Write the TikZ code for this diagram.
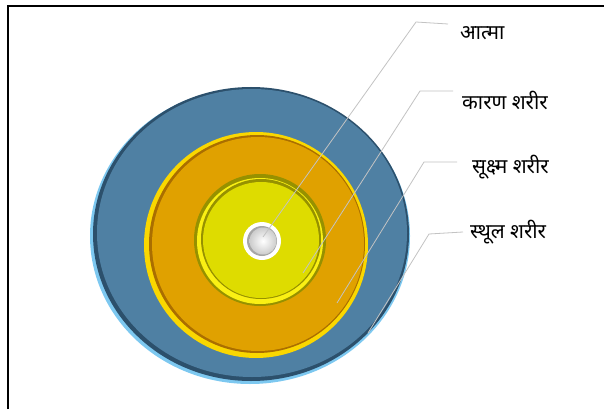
\documentclass[tikz,border=0pt]{standalone}
\usepackage{fontspec}
\newfontfamily\devfont[Script=Devanagari]{Noto Sans}
\definecolor{bluefill}{RGB}{79,128,163}
\definecolor{bluedark}{RGB}{44,80,108}
\definecolor{bluerim}{RGB}{125,200,240}
\definecolor{orfill}{RGB}{224,161,0}
\definecolor{ordark}{RGB}{170,110,0}
\definecolor{orrim}{RGB}{250,215,0}
\definecolor{yefill}{RGB}{222,220,0}
\definecolor{yedark}{RGB}{150,145,0}
\definecolor{yerim}{RGB}{250,240,20}
\definecolor{leader}{RGB}{195,195,195}
\tikzset{
  lbl/.style={anchor=west, inner sep=0pt, font=\devfont\fontsize{20.5}{24}\selectfont},
  leadline/.style={draw=leader, line width=0.8pt},
}
\begin{document}
\begin{tikzpicture}[x=1pt,y=-1pt]
\useasboundingbox (0,0) rectangle (604,409);
\fill[white] (0,0) rectangle (604,409);
% frame
\draw[line width=1.2pt] (8,409) -- (8,6) -- (604,6);
% outer blue disc
\fill[bluerim] (250,236) ellipse [x radius=160, y radius=148];
\fill[bluedark] (251,234) ellipse [x radius=158, y radius=147];
\fill[bluefill] (252,233) ellipse [x radius=155, y radius=144];
% orange disc
\fill[orrim] (256,245) ellipse [x radius=112, y radius=113];
\fill[ordark] (257,244) ellipse [x radius=108, y radius=109];
\fill[orfill] (258,244) ellipse [x radius=106, y radius=107];
% yellow disc
\fill[yedark] (260,240) circle [radius=66];
\fill[yerim] (260,241) circle [radius=63];
\fill[yedark] (261,239) circle [radius=60];
\fill[yefill] (261,240) circle [radius=58];
% core
\fill[white] (262,241) circle [radius=19];
\fill[gray!70] (262,241) circle [radius=15];
\shade[inner color=white, outer color=gray!40] (263,241) circle [radius=13.5];
% labels
\node[lbl] (l1) at (460,33) {आत्मा};
\node[lbl] (l2) at (462,100) {कारण शरीर};
\node[lbl] (l3) at (472,167) {सूक्ष्म शरीर};
\node[lbl] (l4) at (470,232) {स्थूल शरीर};
% leader coordinates
\coordinate (h1) at (448,24); \coordinate (k1) at (416,22); \coordinate (p1) at (263,237);
\coordinate (h2) at (453,91); \coordinate (k2) at (420,91); \coordinate (p2) at (303,273);
\coordinate (h3) at (457,162); \coordinate (k3) at (424,162); \coordinate (p3) at (337,303);
\coordinate (h4) at (463,232); \coordinate (k4) at (429,234); \coordinate (p4) at (368,333);
\draw[leadline] (h1) -- (k1) -- (p1);
\draw[leadline] (h2) -- (k2) -- (p2);
\draw[leadline] (h3) -- (k3) -- (p3);
\draw[leadline] (h4) -- (k4) -- (p4);
\end{tikzpicture}
\end{document}
